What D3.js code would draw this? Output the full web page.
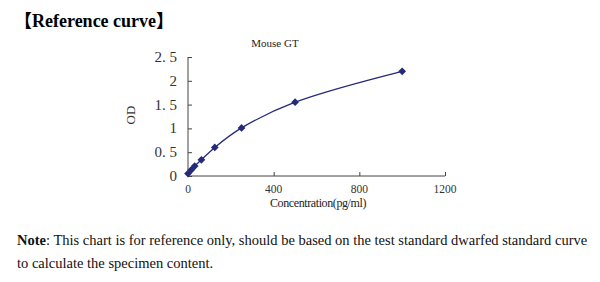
<!DOCTYPE html>
<html>
<head>
<meta charset="utf-8">
<script src="https://cdn.jsdelivr.net/npm/d3@7"></script>
<style>
body { margin: 0; background: #fff; }
</style>
</head>
<body>
<div id="chart"></div>
<script>
// standard curve values
const conc = [0, 15.6, 31.25, 62.5, 125, 250, 500, 1000];
const od = [0.05, 0.13, 0.21, 0.34, 0.6, 1.01, 1.55, 2.2];
const xTicks = [0, 400, 800, 1200];
const yTicks = [0, 0.5, 1, 1.5, 2, 2.5];
const yTickLabels = ["0", "0. 5", "1", "1. 5", "2", "2. 5"];

const serif = "'Liberation Serif', 'Times New Roman', serif";
const navy = "#252a78";

var svg = d3.select('#chart')
            .append("svg")
            .attr("width", 600)
            .attr("height", 282);

// header
svg.append("text")
    .attr("x", 14)
    .attr("y", 27)
    .attr("font-size", 18)
    .attr("font-weight", "bold")
    .attr("font-family", serif + ", 'Noto Sans CJK SC'")
    .text("【Reference curve】");

const x = d3.scaleLinear().domain([0, 1200]).range([188, 445]);
const y = d3.scaleLinear().domain([0, 2.5]).range([176, 57]);

// y axis, ticks pointing inward
const gy = svg.append("g")
    .attr("transform", "translate(188,0)")
    .call(d3.axisRight(y).tickValues(yTicks).tickSize(4).tickFormat(""));
gy.select(".domain").attr("stroke", "#444").attr("d", "M0,57V176");
gy.selectAll(".tick line").attr("stroke", "#444");

svg.append("g").selectAll("text")
    .data(yTicks)
    .join("text")
    .attr("x", 177)
    .attr("y", d => y(d) + 5)
    .attr("text-anchor", "end")
    .attr("font-size", 15)
    .attr("font-family", serif)
    .attr("fill", "#333")
    .text((d, i) => yTickLabels[i]);

// x axis, ticks pointing up
const gx = svg.append("g")
    .attr("transform", "translate(0,176)")
    .call(d3.axisTop(x).tickValues(xTicks).tickSize(4).tickFormat(""));
gx.select(".domain").attr("stroke", "#444").attr("d", "M188,0H445");
gx.selectAll(".tick line").attr("stroke", "#444");

svg.append("g").selectAll("text")
    .data(xTicks)
    .join("text")
    .attr("x", d => x(d))
    .attr("y", 193)
    .attr("text-anchor", "middle")
    .attr("font-size", 11.5)
    .attr("font-family", serif)
    .attr("fill", "#333")
    .text(d => d);

// titles
svg.append("text")
    .attr("x", 275)
    .attr("y", 47)
    .attr("text-anchor", "middle")
    .attr("font-size", 11)
    .attr("font-family", serif)
    .attr("fill", "#222")
    .text("Mouse GT");

svg.append("text")
    .attr("x", 318)
    .attr("y", 207)
    .attr("text-anchor", "middle")
    .attr("font-size", 12)
    .attr("letter-spacing", -0.4)
    .attr("font-family", serif)
    .attr("fill", "#222")
    .text("Concentration(pg/ml)");

svg.append("text")
    .attr("transform", "translate(135,115) rotate(-90)")
    .attr("text-anchor", "middle")
    .attr("font-size", 13)
    .attr("font-family", serif)
    .attr("fill", "#333")
    .text("OD");

// curve
const pts = conc.map((c, i) => [c, od[i]]);
svg.append("path")
    .datum(pts)
    .attr("fill", "none")
    .attr("stroke", navy)
    .attr("stroke-width", 1.3)
    .attr("d", d3.line().x(d => x(d[0])).y(d => y(d[1])).curve(d3.curveCatmullRom));

svg.append("g").selectAll("path")
    .data(pts)
    .join("path")
    .attr("transform", d => "translate(" + x(d[0]) + "," + y(d[1]) + ")")
    .attr("d", d3.symbol(d3.symbolSquare, 30))
    .attr("transform", d => "translate(" + x(d[0]) + "," + y(d[1]) + ") rotate(45)")
    .attr("fill", navy);

// note
const note = svg.append("text")
    .attr("x", 17)
    .attr("y", 245)
    .attr("font-size", 14.5)
    .attr("font-family", serif)
    .attr("fill", "#111");
note.append("tspan").attr("font-weight", "bold").text("Note");
note.append("tspan").text(": This chart is for reference only, should be based on the test standard dwarfed standard curve");

svg.append("text")
    .attr("x", 17)
    .attr("y", 268)
    .attr("font-size", 14.5)
    .attr("font-family", serif)
    .attr("fill", "#111")
    .text("to calculate the specimen content.");
</script>
</body>
</html>
